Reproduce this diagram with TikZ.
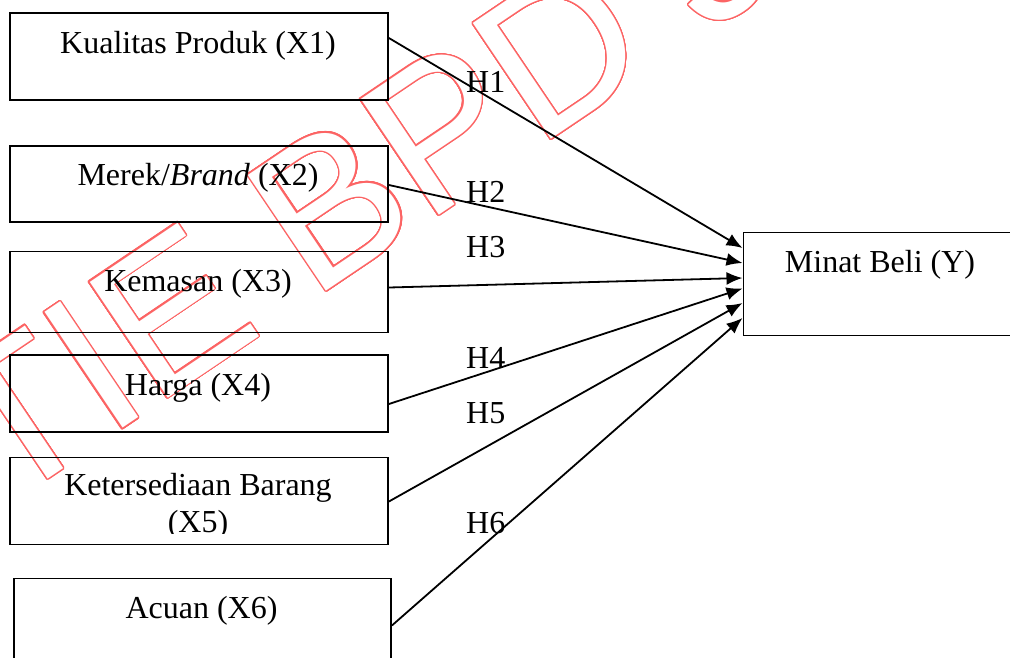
\documentclass[tikz,border=0pt]{standalone}
\usepackage{fontspec}
\setmainfont{Liberation Serif}
\newfontfamily\wmfont{Liberation Sans}
\usepackage{contour}
\usetikzlibrary{arrows.meta}
\definecolor{wmred}{RGB}{252,100,100}
\contourlength{1.3pt}

\begin{document}
\begin{tikzpicture}[x=1pt,y=-1pt,
  varbox/.style={draw, line width=1.9pt, anchor=north west, inner sep=0pt},
  varlabel/.style={anchor=base, inner sep=0pt, font=\fontsize{32}{37}\selectfont},
  hyplabel/.style={anchor=base west, inner sep=0pt, font=\fontsize{32}{37}\selectfont},
  hyparrow/.style={line width=1.8pt, -{Latex[length=16pt,width=13pt]}}]
\def\boxwidth{378pt}
\useasboundingbox (0,0) rectangle (1010,657);
\fill[white] (0,0) rectangle (1010,657);

% WATERMARK
\node[anchor=base west, rotate=34, inner sep=0pt, font=\wmfont\fontsize{203}{203}\selectfont] (wm) at (-108,584)
  {\contour[32]{wmred}{\textcolor{white}{STIE BPD JATENG}}};

% VARIABLE BOXES
\node[varbox, minimum width=\boxwidth, minimum height=87pt] (x1) at (9,12) {};
\node[varbox, minimum width=\boxwidth, minimum height=76pt] (x2) at (9,145) {};
\node[varbox, minimum width=\boxwidth, minimum height=81pt] (x3) at (9,250.5) {};
\node[varbox, minimum width=\boxwidth, minimum height=77pt] (x4) at (9,354) {};
\node[varbox, minimum width=\boxwidth, minimum height=87pt] (x5) at (9,456.5) {};
\node[varbox, minimum width=377pt, minimum height=100pt] (x6) at (13,577.5) {};
\node[varbox, minimum width=300pt, minimum height=103pt] (y) at (742.5,231.5) {};

% BOX TEXTS
\node[varlabel] (t1) at (198,53) {Kualitas Produk (X1)};
\node[varlabel] (t2) at (198,185) {Merek/\textit{Brand} (X2)};
\node[varlabel] (t3) at (198,291) {Kemasan (X3)};
\node[varlabel] (t4) at (198,395) {Harga (X4)};
\node[varlabel] (t5) at (198,495) {Ketersediaan Barang};
\begin{scope}
\clip (9,456) rectangle (387,533);
\node[varlabel] (t5b) at (198,532) {(X5)};
\end{scope}
\node[varlabel] (t6) at (201.5,618) {Acuan (X6)};
\node[varlabel] (ty) at (880,272) {Minat Beli (Y)};

% HYPOTHESES
\draw[hyparrow] ([yshift=-26pt]x1.north east) -- ([yshift=-16.5pt]y.north west);
\draw[hyparrow] ([yshift=-40pt]x2.north east) -- ([yshift=-31.5pt]y.north west);
\draw[hyparrow] ([yshift=-37pt]x3.north east) -- ([yshift=-46.5pt]y.north west);
\draw[hyparrow] ([yshift=-50pt]x4.north east) -- ([yshift=-57pt]y.north west);
\draw[hyparrow] ([yshift=-45pt]x5.north east) -- ([yshift=-71.5pt]y.north west);
\draw[hyparrow] ([yshift=-48pt]x6.north east) -- ([yshift=-86.5pt]y.north west);

\node[hyplabel] (h1) at (466,92) {H1};
\node[hyplabel] (h2) at (466,202) {H2};
\node[hyplabel] (h3) at (466,257) {H3};
\node[hyplabel] (h4) at (466,368) {H4};
\node[hyplabel] (h5) at (466,423) {H5};
\node[hyplabel] (h6) at (466,533) {H6};
\end{tikzpicture}
\end{document}
